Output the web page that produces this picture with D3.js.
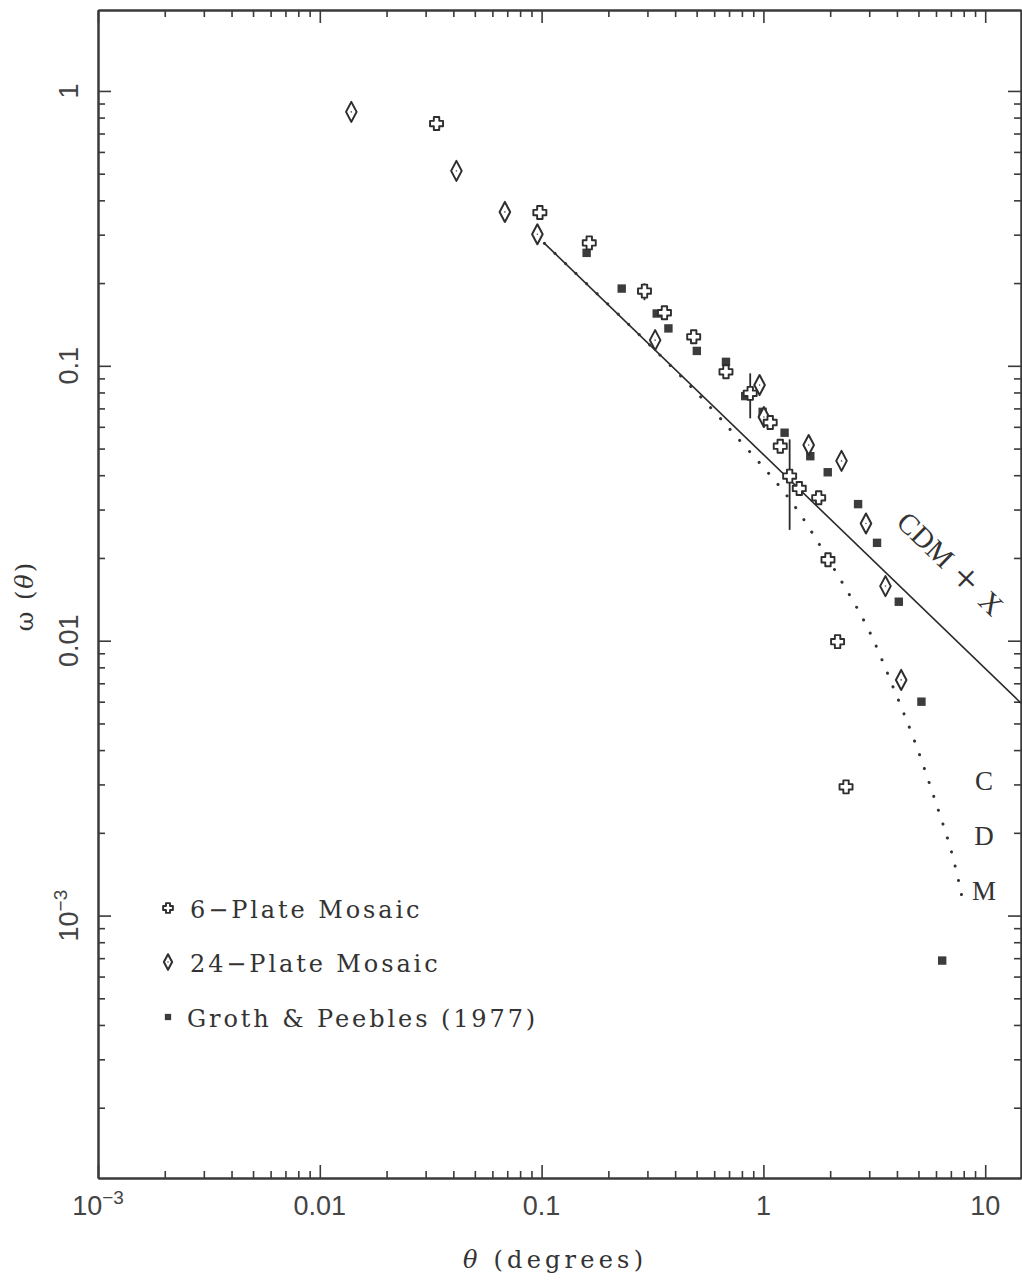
<!DOCTYPE html>
<html>
<head>
<meta charset="utf-8">
<script src="https://cdn.jsdelivr.net/npm/d3@7"></script>
<style>
  html, body { margin: 0; padding: 0; background: #fff; }
  svg { display: block; }
</style>
</head>
<body>
<svg id="chart" width="1022" height="1280"></svg>
<script>
// ---- angular two-point correlation data ----
// 6-plate mosaic
const plate6Theta = [0.0336, 0.0982, 0.164, 0.291, 0.358, 0.485, 0.678, 0.872, 1.073, 1.191, 1.313, 1.451, 1.775, 1.955, 2.16, 2.358];
const plate6Omega = [0.761, 0.361, 0.280, 0.187, 0.156, 0.1275, 0.0951, 0.0794, 0.0622, 0.0510, 0.0397, 0.0358, 0.0331, 0.0197, 0.00992, 0.00294];
// error bars on three of the 6-plate points
const errTheta = [0.291, 0.872, 1.313];
const errLow   = [0.1733, 0.0644, 0.0253];
const errHigh  = [0.1995, 0.0939, 0.0540];

// 24-plate mosaic
const plate24Theta = [0.01387, 0.0413, 0.0683, 0.0957, 0.325, 0.961, 1.005, 1.60, 2.25, 2.90, 3.55, 4.18];
const plate24Omega = [0.839, 0.512, 0.363, 0.301, 0.124, 0.0851, 0.0651, 0.0515, 0.0451, 0.0267, 0.0158, 0.0072];

// Groth & Peebles (1977)
const grothTheta = [0.1596, 0.2297, 0.3304, 0.373, 0.501, 0.678, 0.828, 0.992, 1.246, 1.627, 1.95, 2.672, 3.253, 4.078, 5.158, 6.397];
const grothOmega = [0.2576, 0.191, 0.155, 0.1368, 0.1133, 0.1034, 0.0776, 0.068, 0.0571, 0.0469, 0.0410, 0.0314, 0.0227, 0.01386, 0.0060, 0.000686];

// model curves
const cdmXTheta = [0.103, 14.5];
const cdmXOmega = [0.279, 0.00593];
const cdmTheta = [0.103, 0.4594, 0.80, 1.30, 1.762, 2.365, 3.058, 3.80, 4.815, 6.072, 7.146, 7.955];
const cdmOmega = [0.279, 0.0880, 0.0522, 0.0339, 0.0229, 0.01538, 0.01078, 0.0069, 0.00438, 0.00249, 0.001686, 0.001115];

// axes
const xDomain = [1e-3, 14.5];
const yDomain = [1.11e-4, 1.97];
const xMajor = [1e-3, 1e-2, 1e-1, 1, 10];
const xTickLabels = ["10^−3", "0.01", "0.1", "1", "10"];
const yMajor = [1e-3, 1e-2, 1e-1, 1];
const yTickLabels = ["10^−3", "0.01", "0.1", "1"];

const legendLabels = ["6−Plate Mosaic", "24−Plate Mosaic", "Groth & Peebles (1977)"];

// ---- drawing ----
const svg = d3.select("#chart");
const plot = { left: 98, right: 1021, top: 10, bottom: 1178 };
const ink = "#3a3a3a";

const x = d3.scaleLog().domain(xDomain).range([plot.left, plot.right]);
const y = d3.scaleLog().domain(yDomain).range([plot.bottom, plot.top]);

function minorTicks(domain) {
  const out = [];
  const lo = Math.floor(Math.log10(domain[0]));
  const hi = Math.ceil(Math.log10(domain[1]));
  for (let e = lo; e <= hi; e++) {
    for (let k = 2; k <= 9; k++) {
      const v = k * Math.pow(10, e);
      if (v >= domain[0] && v <= domain[1]) out.push(v);
    }
  }
  return out;
}
const xMinor = minorTicks(xDomain);
const yMinor = minorTicks(yDomain);

function axis(gen, transform, values, size) {
  svg.append("g")
    .attr("transform", transform)
    .call(gen.tickValues(values).tickSize(size).tickSizeOuter(0).tickFormat(() => ""))
    .call(g => {
      g.selectAll(".tick line").attr("stroke", ink).attr("stroke-width", 1.6);
      g.select(".domain").attr("stroke", ink).attr("stroke-width", 2);
    });
}
// ticks point inward on all four sides
axis(d3.axisBottom(x), `translate(0,${plot.bottom})`, xMajor, -13);
axis(d3.axisBottom(x), `translate(0,${plot.bottom})`, xMinor, -7);
axis(d3.axisTop(x), `translate(0,${plot.top})`, xMajor, -13);
axis(d3.axisTop(x), `translate(0,${plot.top})`, xMinor, -7);
axis(d3.axisLeft(y), `translate(${plot.left},0)`, yMajor, -13);
axis(d3.axisLeft(y), `translate(${plot.left},0)`, yMinor, -7);
axis(d3.axisRight(y), `translate(${plot.right},0)`, yMajor, -13);
axis(d3.axisRight(y), `translate(${plot.right},0)`, yMinor, -7);

// tick label with optional superscript exponent ("10^−3")
function tickText(sel, label) {
  const parts = label.split("^");
  sel.append("tspan").text(parts[0]);
  if (parts.length > 1) {
    sel.append("tspan").attr("dy", -11).attr("font-size", 19).text(parts[1]);
  }
}
const sansFont = "'Liberation Sans', Arial, sans-serif";
const serifFont = "'DejaVu Serif', serif";
const romanFont = "'Liberation Serif', 'Times New Roman', serif";

xMajor.forEach((v, i) => {
  const t = svg.append("text")
    .attr("x", x(v)).attr("y", 1215)
    .attr("text-anchor", "middle")
    .attr("font-family", sansFont).attr("font-size", 27)
    .attr("fill", "#444");
  tickText(t, xTickLabels[i]);
});
yMajor.forEach((v, i) => {
  const t = svg.append("text")
    .attr("transform", `translate(78,${y(v)}) rotate(-90)`)
    .attr("text-anchor", "middle")
    .attr("font-family", sansFont).attr("font-size", 27)
    .attr("fill", "#444");
  tickText(t, yTickLabels[i]);
});

// axis titles
const xTitle = svg.append("text")
  .attr("x", 463).attr("y", 1268)
  .attr("font-family", serifFont).attr("font-size", 24)
  .attr("fill", "#333")
  .attr("textLength", 180).attr("lengthAdjust", "spacing");
xTitle.append("tspan").attr("font-style", "italic").text("θ");
xTitle.append("tspan").text(" (degrees)");

const yTitle = svg.append("text")
  .attr("transform", "translate(33,596) rotate(-90)")
  .attr("text-anchor", "middle")
  .attr("font-family", serifFont).attr("font-size", 24)
  .attr("fill", "#333")
  .attr("letter-spacing", 2);
yTitle.append("tspan").text("ω (");
yTitle.append("tspan").attr("font-style", "italic").text("θ");
yTitle.append("tspan").text(")");

// model curves
const line = d3.line().x(d => x(d[0])).y(d => y(d[1]));
svg.append("path")
  .datum(cdmXTheta.map((t, i) => [t, cdmXOmega[i]]))
  .attr("d", line)
  .attr("fill", "none").attr("stroke", "#2a2a2a").attr("stroke-width", 1.6);

svg.append("path")
  .datum(cdmTheta.map((t, i) => [t, cdmOmega[i]]))
  .attr("d", line.curve(d3.curveBasis))
  .attr("fill", "none").attr("stroke", "#333").attr("stroke-width", 3)
  .attr("stroke-linecap", "round").attr("stroke-dasharray", "0.1 14.5");

// curve labels: "CDM + X" set along the solid line, in three pieces
const cdmxGroup = svg.append("g").attr("transform", "translate(951,564) rotate(44)");
const cdmxParts = ["CDM", "+", "X"];
const cdmxOffset = [-35, 21, 56];
const cdmxSize = [29, 44, 29];
const cdmxShift = ["0.35em", "0.33em", "0.35em"];
cdmxParts.forEach((p, i) => {
  cdmxGroup.append("text")
    .attr("x", cdmxOffset[i]).attr("dy", cdmxShift[i])
    .attr("text-anchor", "middle")
    .attr("font-family", romanFont)
    .attr("font-size", cdmxSize[i]).attr("fill", "#333")
    .text(p);
});

const cdmLetters = ["C", "D", "M"];
const cdmLetterOmega = [0.0031, 0.00195, 0.00123];
cdmLetters.forEach((c, i) => {
  svg.append("text")
    .attr("x", 984).attr("y", y(cdmLetterOmega[i]))
    .attr("dy", "0.35em").attr("text-anchor", "middle")
    .attr("font-family", romanFont)
    .attr("font-size", 27).attr("fill", "#333")
    .text(c);
});

// error bars
errTheta.forEach((t, i) => {
  svg.append("line")
    .attr("x1", x(t)).attr("x2", x(t))
    .attr("y1", y(errLow[i])).attr("y2", y(errHigh[i]))
    .attr("stroke", "#2a2a2a").attr("stroke-width", 1.8);
});

// marker shapes
function plusPath(s) {
  const L = 6.5 * s, a = 2.7 * s;
  return `M${-a},${-L}H${a}V${-a}H${L}V${a}H${a}V${L}H${-a}V${a}H${-L}V${-a}H${-a}Z`;
}
function diamondPath(s) {
  const w = 5.3 * s, h = 10 * s;
  return `M0,${-h}L${w},0L0,${h}L${-w},0Z`;
}
function drawPlus(g, cx, cy, s) {
  g.append("path").attr("transform", `translate(${cx},${cy})`)
    .attr("d", plusPath(s)).attr("fill", "#fff")
    .attr("stroke", "#2e2e2e").attr("stroke-width", 1.9).attr("stroke-linejoin", "round");
}
function drawDiamond(g, cx, cy, s) {
  g.append("path").attr("transform", `translate(${cx},${cy})`)
    .attr("d", diamondPath(s)).attr("fill", "#fff")
    .attr("stroke", "#2e2e2e").attr("stroke-width", 2).attr("stroke-linejoin", "round");
  g.append("circle").attr("cx", cx).attr("cy", cy).attr("r", 0.8).attr("fill", "#555");
}
function drawSquare(g, cx, cy, s) {
  const h = 4.2 * s;
  g.append("rect").attr("x", cx - h).attr("y", cy - h)
    .attr("width", 2 * h).attr("height", 2 * h).attr("fill", "#3c3c3c");
}

const marks = svg.append("g");
grothTheta.forEach((t, i) => drawSquare(marks, x(t), y(grothOmega[i]), 1));
plate24Theta.forEach((t, i) => drawDiamond(marks, x(t), y(plate24Omega[i]), 1));
plate6Theta.forEach((t, i) => drawPlus(marks, x(t), y(plate6Omega[i]), 1));

// legend
const legend = svg.append("g");
const legendY = [908, 962, 1017];
const legendDraw = [drawPlus, drawDiamond, drawSquare];
const legendScale = [0.75, 0.78, 0.75];
legendLabels.forEach((lab, i) => {
  legendDraw[i](legend, 168, legendY[i], legendScale[i]);
  legend.append("text")
    .attr("x", i === 2 ? 187 : 190).attr("y", legendY[i] + 10)
    .attr("font-family", serifFont).attr("font-size", 24)
    .attr("fill", "#333").attr("letter-spacing", 2.9)
    .text(lab);
});
</script>
</body>
</html>
